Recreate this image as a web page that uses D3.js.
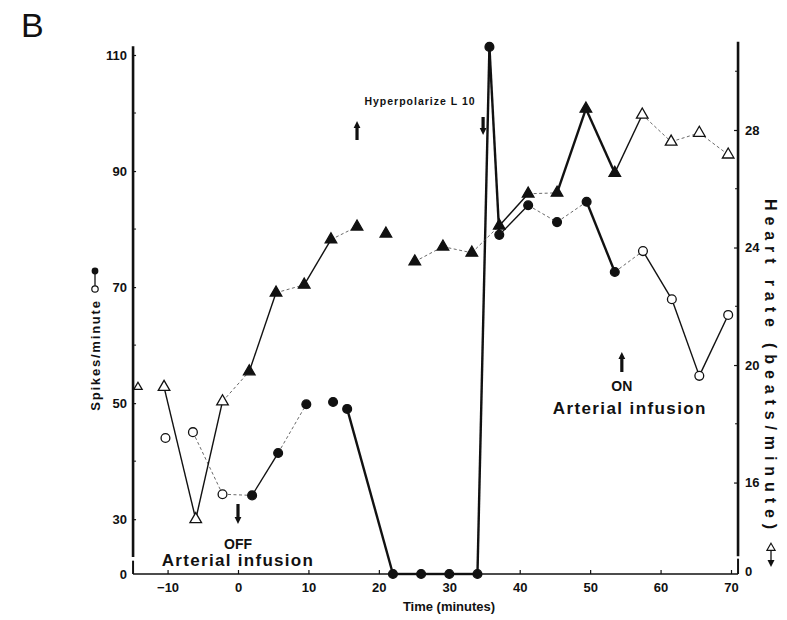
<!DOCTYPE html>
<html>
<head>
<meta charset="utf-8">
<script src="https://cdnjs.cloudflare.com/ajax/libs/d3/7.8.5/d3.min.js"></script>
<style>
  body { margin: 0; background: #fff; }
  svg { display: block; font-family: 'Liberation Sans', Arial, sans-serif; }
  .tick text { font-size: 13px; font-weight: bold; fill: #111; }
  .tick line { stroke: #111; stroke-width: 1.2; }
  .lbl { font-weight: bold; fill: #111; }
</style>
</head>
<body>
<div id="chart"></div>
<script>
// spikes/minute (left axis), open = arterial infusion on
const spikeTime = [-10.3, -6.4, -2.2, 2, 5.7, 9.7, 13.5, 15.5, 22, 26, 30, 34, 35.7, 37.1, 41.2, 45.3, 49.5, 53.5, 57.5, 61.6, 65.5, 69.6];
const spikeRate = [44, 45, 34.3, 34.1, 41.4, 49.8, 50.2, 49, 0, 0, 0, 0, 111.4, 79, 84.1, 81.2, 84.7, 72.6, 76.2, 67.9, 54.7, 65.2];
const spikeOpen = [1, 1, 1, 0, 0, 0, 0, 0, 0, 0, 0, 0, 0, 0, 0, 0, 0, 0, 1, 1, 1, 1];
// how each point joins the next one
const spikeLinks = ['', 'dot', 'dot', 'solid', 'dot', '', '', 'heavy', 'heavy', 'heavy', 'heavy', 'heavy', 'heavy',
  'solid', 'dot', 'dot', 'heavy', 'dot', 'solid', 'solid', 'solid'];

// heart rate (right axis)
const hrTime = [-14.2, -10.5, -6, -2.2, 1.6, 5.4, 9.4, 13.2, 16.9, 21, 25.1, 29.1, 33.2, 37.1, 41.2, 45.3, 49.4, 53.5, 57.4, 61.5, 65.5, 69.6];
const hrRate = [19.25, 19.25, 14.75, 18.76, 19.78, 22.46, 22.73, 24.27, 24.71, 24.47, 23.52, 24.03, 23.82, 24.74, 25.83, 25.86, 28.72, 26.54, 28.52, 27.6, 27.9, 27.16];
const hrOpen = [1, 1, 1, 1, 0, 0, 0, 0, 0, 0, 0, 0, 0, 0, 0, 0, 0, 0, 1, 1, 1, 1];
const hrLinks = ['', 'solid', 'solid', 'dot', 'solid', 'dot', 'solid', 'dot', '', '', 'dot', 'dot', 'dot',
  'solid', 'dot', 'heavy', 'heavy', 'solid', 'dot', 'dot', 'dot'];

const timeTicks = [-10, 0, 10, 20, 30, 40, 50, 60, 70];
const leftTicks = [0, 30, 50, 70, 90, 110];
const leftMinor = [40, 60, 80, 100];
const rightTicks = [0, 16, 20, 24, 28];
const rightMinor = [18, 22, 26, 30];

// annotation times (minutes)
const offTime = 0, onTime = 54.5, hypStart = 16.9, hypEnd = 34.8;

const svg = d3.select('#chart').append('svg')
  .attr('width', 787)
  .attr('height', 620);

const x = d3.scaleLinear().domain([0, 70]).range([238, 731]);
// both y axes are broken just above zero
const yLeft = d3.scaleLinear().domain([0, 24, 110]).range([574, 554, 55]);
const yRight = d3.scaleLinear().domain([0, 13.5, 28]).range([574, 556, 130]);

const xMin = -14.9, xMax = 71;

// axes
const gx = svg.append('g')
  .attr('transform', `translate(0,${yLeft(0)})`)
  .call(d3.axisBottom(x).tickValues(timeTicks).tickSize(-4).tickPadding(9).tickFormat(d3.format('d')));
gx.select('.domain').remove();

const gl = svg.append('g')
  .attr('transform', `translate(${x(xMin)},0)`)
  .call(d3.axisLeft(yLeft).tickValues(leftTicks).tickSize(-3).tickPadding(6));
gl.select('.domain').remove();
gl.selectAll('.tick').filter(d => d === 0).select('line').remove();

const gr = svg.append('g')
  .attr('transform', `translate(${x(xMax)},0)`)
  .call(d3.axisRight(yRight).tickValues(rightTicks).tickSize(-4).tickPadding(7));
gr.select('.domain').remove();
gr.selectAll('.tick').filter(d => d === 0).select('line').remove();
gr.selectAll('.tick').filter(d => d === 0).select('text').attr('dy', '0.1em');

// minor ticks
svg.selectAll('.lminor').data(leftMinor).join('line')
  .attr('x1', x(xMin)).attr('x2', x(xMin) + 3)
  .attr('y1', d => yLeft(d)).attr('y2', d => yLeft(d))
  .attr('stroke', '#111');
svg.selectAll('.rminor').data(rightMinor).join('line')
  .attr('x1', x(xMax)).attr('x2', x(xMax) - 3)
  .attr('y1', d => yRight(d)).attr('y2', d => yRight(d))
  .attr('stroke', '#111');

// axis lines with the breaks
const axisLines = [
  [x(xMin), yLeft(0), x(xMax), yLeft(0), 1.6],
  [x(xMin), yLeft(111.5), x(xMin), yLeft(20.5), 2.6],
  [x(xMin), yLeft(16), x(xMin), yLeft(0), 2],
  [x(xMax), yRight(31), x(xMax), yRight(13.3), 2.6],
  [x(xMax), yRight(11.5), x(xMax), yRight(0), 2]
];
svg.selectAll('.axline').data(axisLines).join('line')
  .attr('x1', d => d[0]).attr('y1', d => d[1])
  .attr('x2', d => d[2]).attr('y2', d => d[3])
  .attr('stroke', '#111')
  .attr('stroke-width', d => d[4]);

// connecting segments
function drawLinks(times, values, links, y) {
  const segs = links.map((k, i) => ({ k, i })).filter(d => d.k);
  svg.append('g').selectAll('line').data(segs).join('line')
    .attr('x1', d => x(times[d.i])).attr('y1', d => y(values[d.i]))
    .attr('x2', d => x(times[d.i + 1])).attr('y2', d => y(values[d.i + 1]))
    .attr('stroke', d => d.k === 'dot' ? '#444' : '#111')
    .attr('stroke-width', d => d.k === 'heavy' ? 2.4 : d.k === 'solid' ? 1.4 : 0.8)
    .attr('stroke-dasharray', d => d.k === 'dot' ? '3,2.5' : null);
}

drawLinks(spikeTime, spikeRate, spikeLinks, yLeft);
drawLinks(hrTime, hrRate, hrLinks, yRight);

// markers
svg.append('g').selectAll('circle').data(spikeTime).join('circle')
  .attr('cx', d => x(d))
  .attr('cy', (d, i) => yLeft(spikeRate[i]))
  .attr('r', 4.4)
  .attr('fill', (d, i) => spikeOpen[i] ? '#fff' : '#111')
  .attr('stroke', '#111')
  .attr('stroke-width', 1.3);

const tri = d3.symbol().type(d3.symbolTriangle);
svg.append('g').selectAll('path').data(hrTime).join('path')
  .attr('d', (d, i) => tri.size(i === 0 ? 30 : 58)())
  .attr('transform', (d, i) => `translate(${x(d)},${yRight(hrRate[i])})`)
  .attr('fill', (d, i) => hrOpen[i] ? '#fff' : '#111')
  .attr('stroke', '#111')
  .attr('stroke-width', 1.3);

// small arrows: dir 1 points down, -1 points up
function arrow(xPos, yTail, len, dir) {
  const tip = yTail + dir * len;
  const base = tip - dir * 7;
  const p = d3.path();
  p.moveTo(xPos - 1.6, yTail);
  p.lineTo(xPos + 1.6, yTail);
  p.lineTo(xPos + 1.6, base);
  p.lineTo(xPos + 3.4, base);
  p.lineTo(xPos, tip);
  p.lineTo(xPos - 3.4, base);
  p.lineTo(xPos - 1.6, base);
  p.closePath();
  svg.append('path').attr('d', p.toString()).attr('fill', '#111');
}

arrow(x(offTime), 504, 20, 1);
arrow(x(onTime), 372, 20, -1);
arrow(x(hypStart), 140, 19, -1);
arrow(x(hypEnd), 117, 18, 1);

// annotation text
svg.append('text').attr('class', 'lbl')
  .attr('x', 420).attr('y', 105)
  .attr('text-anchor', 'middle')
  .style('font-size', '10.5px').style('letter-spacing', '1px')
  .text('Hyperpolarize L 10');

svg.append('text').attr('class', 'lbl')
  .attr('x', x(offTime)).attr('y', 549)
  .attr('text-anchor', 'middle').style('font-size', '14px')
  .text('OFF');
svg.append('text').attr('class', 'lbl')
  .attr('x', x(offTime)).attr('y', 566)
  .attr('text-anchor', 'middle').style('font-size', '17px').style('letter-spacing', '1.3px')
  .text('Arterial infusion');

svg.append('text').attr('class', 'lbl')
  .attr('x', x(onTime)).attr('y', 391)
  .attr('text-anchor', 'middle').style('font-size', '14px')
  .text('ON');
svg.append('text').attr('class', 'lbl')
  .attr('x', x(onTime) + 8).attr('y', 414)
  .attr('text-anchor', 'middle').style('font-size', '17px').style('letter-spacing', '1.4px')
  .text('Arterial infusion');

// panel letter
svg.append('text')
  .attr('x', 21).attr('y', 37)
  .style('font-size', '34px').style('fill', '#111')
  .text('B');

// axis titles
svg.append('text').attr('class', 'lbl')
  .attr('x', 449).attr('y', 611)
  .attr('text-anchor', 'middle').style('font-size', '13px')
  .text('Time (minutes)');

svg.append('text').attr('class', 'lbl')
  .attr('transform', 'translate(100,355) rotate(-90)')
  .attr('text-anchor', 'middle').style('font-size', '13px').style('letter-spacing', '1.8px')
  .text('Spikes/minute');
// legend key: filled over open circle
svg.append('line').attr('x1', 95).attr('x2', 95).attr('y1', 271).attr('y2', 288)
  .attr('stroke', '#111').attr('stroke-width', 1.3);
svg.append('circle').attr('cx', 95).attr('cy', 271).attr('r', 3.4).attr('fill', '#111');
svg.append('circle').attr('cx', 95).attr('cy', 289).attr('r', 3.2)
  .attr('fill', '#fff').attr('stroke', '#111').attr('stroke-width', 1.2);

svg.append('text').attr('class', 'lbl')
  .attr('transform', 'translate(765,364) rotate(90)')
  .attr('text-anchor', 'middle').style('font-size', '16px')
  .attr('textLength', 330).attr('lengthAdjust', 'spacing')
  .text('Heart rate (beats/minute)');
// legend key: open triangle to filled arrow
const key = svg.append('g').attr('transform', 'translate(771,548) rotate(90)');
key.append('path').attr('d', d3.symbol().type(d3.symbolTriangle).size(30)())
  .attr('transform', 'rotate(-90)')
  .attr('fill', '#fff').attr('stroke', '#111').attr('stroke-width', 1.1);
key.append('line').attr('x1', 3).attr('x2', 14).attr('y1', 0).attr('y2', 0)
  .attr('stroke', '#111').attr('stroke-width', 1.3);
key.append('path').attr('d', 'M12,-3.5L19,0L12,3.5Z').attr('fill', '#111');
</script>
</body>
</html>
